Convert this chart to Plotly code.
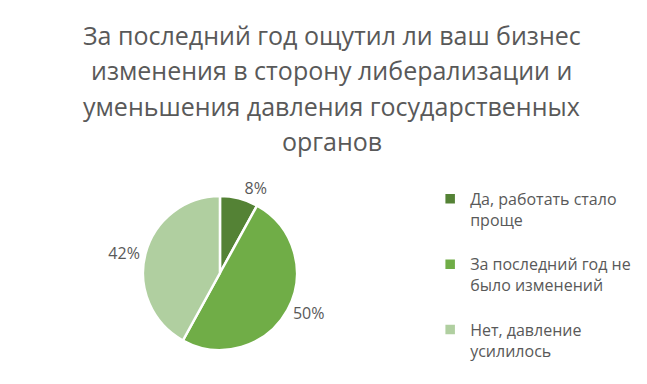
import plotly.graph_objects as go

title_lines = ["За последний год ощутил ли ваш бизнес",
               "изменения в сторону либерализации и",
               "уменьшения давления государственных",
               "органов"]
labels = ["Да, работать стало<br>проще<br> ",
          "За последний год не<br>было изменений<br> ",
          "Нет, давление<br>усилилось"]
values = [8, 50, 42]
colors = ["#548235", "#70AD47", "#B0CFA0"]

FONT = "Open Sans"
GREY = "#595959"

fig = go.Figure(go.Pie(
    labels=labels,
    values=values,
    sort=False,
    direction="clockwise",
    rotation=0,
    marker=dict(colors=colors, line=dict(color="white", width=2.5)),
    textinfo="percent",
    texttemplate="%{percent:.0%}",
    textposition="outside",
    textfont=dict(family=FONT, size=16, color=GREY),
    domain=dict(x=[0.2086, 0.4466], y=[0.1093, 0.5104]),
    hoverinfo="label+percent",
))

title_annotations = [
    dict(text=line, x=0.5, xref="paper", xanchor="center",
         y=1.0, yref="paper", yanchor="middle", yshift=-(27 + 35.3 * i),
         showarrow=False, font=dict(family=FONT, size=25, color=GREY))
    for i, line in enumerate(title_lines)
]

fig.update_layout(
    width=647, height=384,
    margin=dict(l=0, r=0, t=0, b=0),
    paper_bgcolor="white",
    plot_bgcolor="white",
    annotations=title_annotations,
    legend=dict(x=0.6525, y=0.305, xanchor="left", yanchor="middle",
                font=dict(family=FONT, size=16, color=GREY),
                valign="top", itemwidth=30),
    showlegend=True,
)

fig.write_html("out.html")
